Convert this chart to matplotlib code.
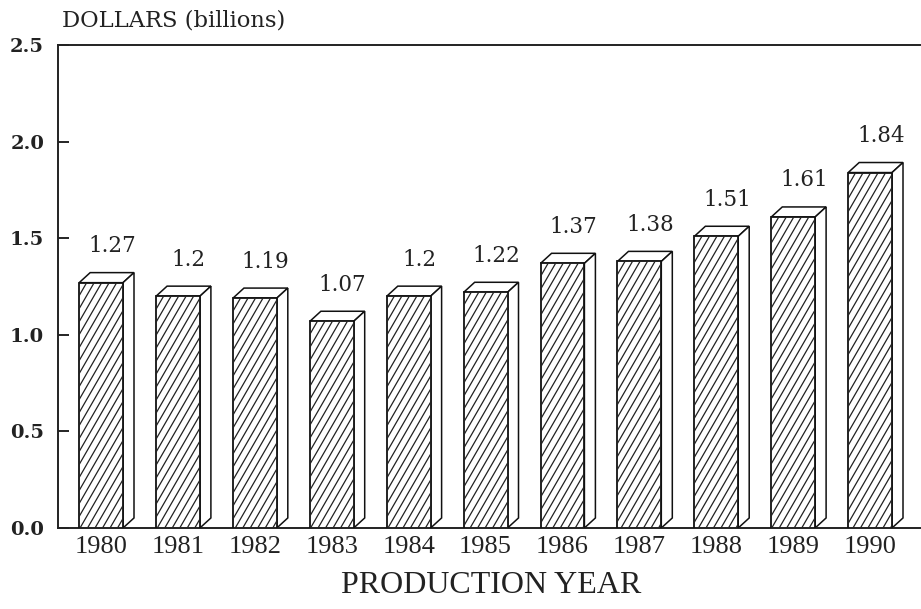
import matplotlib.pyplot as plt
from matplotlib.patches import Polygon
from matplotlib.collections import LineCollection
import numpy as np

years = ["1980", "1981", "1982", "1983", "1984", "1985",
         "1986", "1987", "1988", "1989", "1990"]
values = [1.27, 1.20, 1.19, 1.07, 1.20, 1.22, 1.37, 1.38, 1.51, 1.61, 1.84]
value_labels = ["1.27", "1.2", "1.19", "1.07", "1.2", "1.22",
                "1.37", "1.38", "1.51", "1.61", "1.84"]
yticks = [0.0, 0.5, 1.0, 1.5, 2.0, 2.5]

fig = plt.figure(figsize=(9.21, 6.09), dpi=100)
ax = fig.add_axes([0.063, 0.133, 0.936, 0.793])

x = np.arange(len(years))
width = 0.57
# depth of the 3d effect in data units
dx = 0.143
dy = 0.052

ax.set_xlim(-0.56, 10.65)
ax.set_ylim(0, 2.5)

bars = ax.bar(x, values, width=width, color="white", edgecolor="#111111",
              linewidth=1.3, zorder=3)

# steep hatch lines (about 60 degrees), done in pixel space and clipped to each bar
spacing = 7.5
slope = np.tan(np.radians(60))
for b in bars:
    (px0, py0), (px1, py1) = ax.transData.transform(
        [(b.get_x(), 0), (b.get_x() + b.get_width(), b.get_height())])
    run = (py1 - py0) / slope
    segs = []
    for u in np.arange(px0 - run, px1 + spacing, spacing):
        seg_px = [(u, py0), (u + run, py1)]
        segs.append(ax.transData.inverted().transform(seg_px))
    lc = LineCollection(segs, colors="#222222", linewidths=0.9, zorder=3.5)
    ax.add_collection(lc, autolim=False)
    lc.set_clip_path(b.get_path(), b.get_transform())

for xi, v, lab in zip(x, values, value_labels):
    x0 = xi - width / 2
    x1 = xi + width / 2
    top = Polygon([(x0, v), (x0 + dx, v + dy), (x1 + dx, v + dy), (x1, v)],
                  closed=True, facecolor="white", edgecolor="#111111",
                  linewidth=1.1, zorder=2)
    side = Polygon([(x1, 0), (x1 + dx, dy), (x1 + dx, v + dy), (x1, v)],
                   closed=True, facecolor="white", edgecolor="#111111",
                   linewidth=1.1, zorder=2)
    ax.add_patch(top)
    ax.add_patch(side)
    ax.text(xi + dx / 2 + 0.07, v + dy + 0.08, lab, ha="center", va="bottom",
            fontsize=15.5, family="DejaVu Serif", color="#222222")

ax.set_yticks(yticks)
ax.set_yticklabels([f"{t:.1f}" for t in yticks], family="DejaVu Serif",
                   fontsize=14, fontweight="bold", color="#222222")
ax.set_xticks(x)
ax.set_xticklabels(years, family="Liberation Serif", fontsize=19,
                   color="#222222")
ax.tick_params(axis="x", length=0, pad=6)
ax.tick_params(axis="y", direction="in", length=8, width=1.2, pad=10)

for s in ["left", "top", "bottom"]:
    ax.spines[s].set_linewidth(1.4)
    ax.spines[s].set_color("#222222")
ax.spines["right"].set_visible(False)

fig.text(0.067, 0.948, "DOLLARS (billions)", family="DejaVu Serif",
         fontsize=16.3, color="#222222", ha="left", va="bottom")
fig.text(0.533, 0.039, "PRODUCTION YEAR", family="Liberation Serif",
         fontsize=23, color="#222222", ha="center", va="center")

plt.savefig("out.png", dpi=100)
plt.close()
